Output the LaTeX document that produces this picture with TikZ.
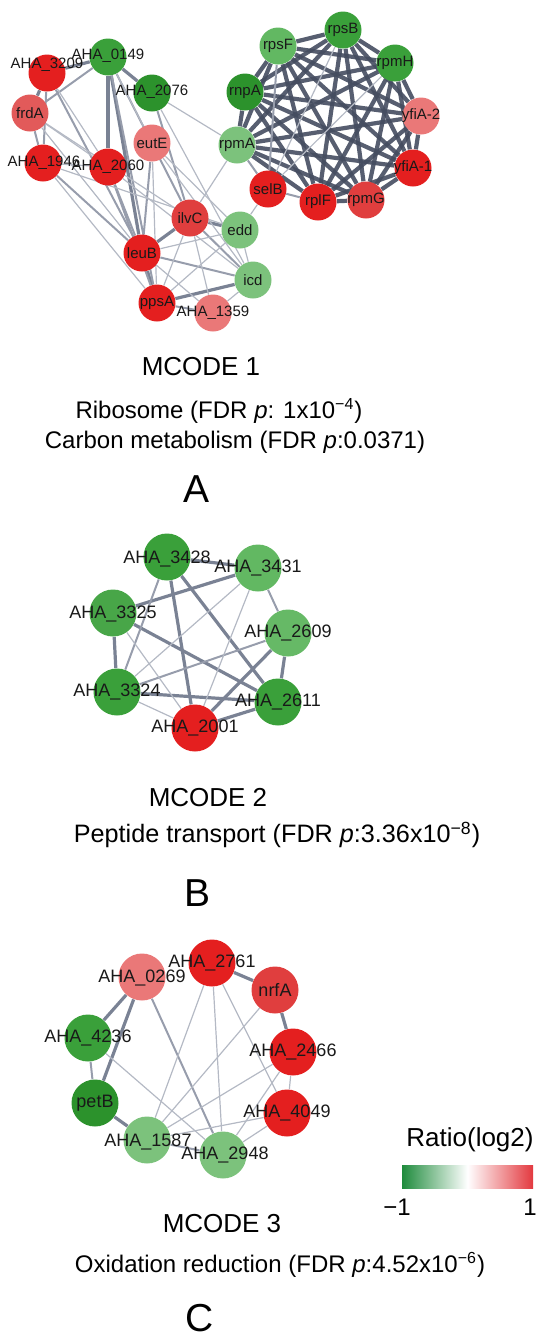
\documentclass[tikz,border=0pt]{standalone}
\usepackage{fontspec}
\setmainfont{Liberation Sans}
\pgfdeclarelayer{edges}
\pgfsetlayers{edges,main}
\definecolor{cRed}{HTML}{E41F1F}
\definecolor{cMidRed}{HTML}{E03E3E}
\definecolor{cLightRed}{HTML}{E25A5A}
\definecolor{cSalmon}{HTML}{EA7878}
\definecolor{cGreen}{HTML}{3AA03A}
\definecolor{cDarkGreen}{HTML}{2C922C}
\definecolor{cLightGreen}{HTML}{7CC27C}
\definecolor{cLightGreenB}{HTML}{62B862}
\definecolor{cMidGreen}{HTML}{48A648}
\definecolor{cEdgeL}{HTML}{B4B9C4}
\definecolor{cEdgeM}{HTML}{979DAC}
\definecolor{cEdgeT}{HTML}{7A8294}
\definecolor{cEdgeD}{HTML}{454D60}
\definecolor{cLegG}{HTML}{1E8B3C}
\definecolor{cLegR}{HTML}{E3393F}
\tikzset{
  gn/.style={circle, draw=none, minimum size=18.5pt, inner sep=0pt},
  bn/.style={circle, draw=none, minimum size=23.5pt, inner sep=0pt},
  lab/.style={font=\fontsize{7.5}{8}\selectfont, inner sep=0pt, text=black!90},
  labB/.style={font=\fontsize{9}{10}\selectfont, inner sep=0pt, text=black!90},
  eL/.style={line width=0.6pt, draw=cEdgeL},
  eM/.style={line width=1pt, draw=cEdgeM},
  eT/.style={line width=1.6pt, draw=cEdgeT},
  eD/.style={line width=2.1pt, draw=cEdgeD, opacity=0.9},
  ttl/.style={font=\fontsize{13}{15}\selectfont, inner sep=0pt},
  desc/.style={font=\fontsize{12}{14}\selectfont, inner sep=0pt},
  letter/.style={font=\fontsize{19.5}{22}\selectfont, inner sep=0pt},
}
\begin{document}
\begin{tikzpicture}[x=0.5pt,y=-0.5pt]
\useasboundingbox (0,0) rectangle (550,1341);
% ---------- MCODE 1 ----------
\node[gn, fill=cRed] (n3209) at (47,73) {};
\node[gn, fill=cGreen] (n0149) at (108,57) {};
\node[gn, fill=cDarkGreen] (n2076) at (152,93) {};
\node[gn, fill=cLightRed] (frdA) at (30,113) {};
\node[gn, fill=cSalmon] (eutE) at (152,143) {};
\node[gn, fill=cRed] (n1946) at (43,163) {};
\node[gn, fill=cRed] (n2060) at (108,167) {};
\node[gn, fill=cMidRed] (ilvC) at (190,218) {};
\node[gn, fill=cLightGreen] (edd) at (240,230) {};
\node[gn, fill=cRed] (leuB) at (142,253) {};
\node[gn, fill=cLightGreen] (icd) at (253,280) {};
\node[gn, fill=cRed] (ppsA) at (157,303) {};
\node[gn, fill=cSalmon] (n1359) at (213,313) {};
\node[gn, fill=cLightGreen] (rpmA) at (237,145) {};
\node[gn, fill=cDarkGreen] (rnpA) at (245,92) {};
\node[gn, fill=cRed] (selB) at (268,189) {};
\node[gn, fill=cLightGreenB] (rpsF) at (278,46) {};
\node[gn, fill=cGreen] (rpsB) at (343,30) {};
\node[gn, fill=cGreen] (rpmH) at (395,63) {};
\node[gn, fill=cSalmon] (yfiA2) at (421,116) {};
\node[gn, fill=cRed] (yfiA1) at (413,168) {};
\node[gn, fill=cRed] (rplF) at (318,202) {};
\node[gn, fill=cMidRed] (rpmG) at (366,200) {};
\begin{pgfonlayer}{edges}
\foreach \a [count=\i] in {rpsF,rpsB,rpmH,rnpA,rpmA,yfiA2,yfiA1,rplF,rpmG}
  \foreach \b [count=\j] in {rpsF,rpsB,rpmH,rnpA,rpmA,yfiA2,yfiA1,rplF,rpmG}
    {\ifnum\j>\i \draw[eD] (\a) -- (\b); \fi}
\foreach \a/\b in {selB/rpmA,selB/rplF,selB/rpsF}
  \draw[eM] (\a) -- (\b);
\foreach \a/\b in {selB/rpmH,selB/rpsB}
  \draw[eL] (\a) -- (\b);
\foreach \a/\b in {n3209/n0149,n3209/frdA,n0149/n2060,n0149/leuB,ilvC/edd,leuB/ilvC,leuB/ppsA,ppsA/icd,n0149/n2076}
  \draw[eT] (\a) -- (\b);
\foreach \a/\b in {n0149/frdA,n0149/ilvC,n3209/n1946,n3209/leuB,frdA/n1946,n1946/leuB,n2060/leuB,n2076/ilvC,eutE/leuB,ilvC/icd,leuB/icd,ppsA/n1359,n0149/ppsA,n2060/ppsA}
  \draw[eM] (\a) -- (\b);
\foreach \a/\b in {n3209/n2060,frdA/n2060,frdA/leuB,n1946/ppsA,n1946/edd,n2060/icd,n2076/rpmA,n2076/icd,eutE/ppsA,eutE/icd,eutE/edd,ilvC/ppsA,ilvC/n1359,ilvC/rpmA,leuB/edd,leuB/n1359,ppsA/edd,n1359/icd,edd/icd,selB/edd,n0149/eutE,frdA/ilvC,n1946/n2060}
  \draw[eL] (\a) -- (\b);
\end{pgfonlayer}
\node[lab] (l3209) at (47,65) {AHA\_3209};
\node[lab] (l0149) at (108,56) {AHA\_0149};
\node[lab] (l2076) at (152,92) {AHA\_2076};
\node[lab] (lfrdA) at (frdA) {frdA};
\node[lab] (leutE) at (eutE) {eutE};
\node[lab] (l1946) at (44,163) {AHA\_1946};
\node[lab] (l2060) at (108,167) {AHA\_2060};
\node[lab] (lilvC) at (ilvC) {ilvC};
\node[lab] (ledd) at (edd) {edd};
\node[lab] (lleuB) at (leuB) {leuB};
\node[lab] (licd) at (icd) {icd};
\node[lab] (lppsA) at (ppsA) {ppsA};
\node[lab] (l1359) at (213,313) {AHA\_1359};
\node[lab] (lrpmA) at (rpmA) {rpmA};
\node[lab] (lrnpA) at (rnpA) {rnpA};
\node[lab] (lselB) at (selB) {selB};
\node[lab] (lrpsF) at (rpsF) {rpsF};
\node[lab] (lrpsB) at (rpsB) {rpsB};
\node[lab] (lrpmH) at (rpmH) {rpmH};
\node[lab] (lyfiA2) at (yfiA2) {yfiA-2};
\node[lab] (lyfiA1) at (yfiA1) {yfiA-1};
\node[lab] (lrplF) at (rplF) {rplF};
\node[lab] (lrpmG) at (rpmG) {rpmG};
\node[ttl] (m1) at (201,367) {MCODE 1};
\node[desc] (d1a) at (219,411) {Ribosome (FDR \textit{p}: 1x10\textsuperscript{−4})};
\node[desc] (d1b) at (235,442) {Carbon metabolism (FDR \textit{p}:0.0371)};
\node[letter] (lA) at (197,489) {A};
% ---------- MCODE 2 ----------
\node[bn, fill=cGreen] (a3428) at (167,557) {};
\node[bn, fill=cLightGreenB] (a3431) at (258,568) {};
\node[bn, fill=cMidGreen] (a3325) at (113,613) {};
\node[bn, fill=cLightGreenB!85!cLightGreen] (a2609) at (288,633) {};
\node[bn, fill=cGreen] (a3324) at (117,692) {};
\node[bn, fill=cGreen] (a2611) at (278,702) {};
\node[bn, fill=cRed] (a2001) at (195,728) {};
\begin{pgfonlayer}{edges}
\foreach \a/\b in {a3428/a3431,a3428/a2001,a3428/a2611,a3431/a3325,a3325/a3324,a3325/a2611,a2609/a2611,a2609/a2001,a3324/a2611,a2611/a2001}
  \draw[eT] (\a) -- (\b);
\foreach \a/\b in {a2609/a3324,a3428/a3324,a3431/a2609}
  \draw[eM] (\a) -- (\b);
\foreach \a/\b in {a3431/a3324,a3431/a2001,a3325/a2001,a3324/a2001}
  \draw[eL] (\a) -- (\b);
\end{pgfonlayer}
\node[labB] (l3428) at (167,559) {AHA\_3428};
\node[labB] (l3431) at (258,568) {AHA\_3431};
\node[labB] (l3325) at (113,614) {AHA\_3325};
\node[labB] (l2609) at (288,633) {AHA\_2609};
\node[labB] (l3324) at (117,692) {AHA\_3324};
\node[labB] (l2611) at (278,702) {AHA\_2611};
\node[labB] (l2001) at (195,728) {AHA\_2001};
\node[ttl] (m2) at (208,798) {MCODE 2};
\node[desc, font=\fontsize{12.6}{14}\selectfont] (d2) at (277,835) {Peptide transport (FDR \textit{p}:3.36x10\textsuperscript{−8})};
\node[letter] (lB) at (198,893) {B};
% ---------- MCODE 3 ----------
\node[bn, fill=cSalmon] (b0269) at (142,977) {};
\node[bn, fill=cRed] (b2761) at (212,963) {};
\node[bn, fill=cMidRed] (nrfA) at (275,990) {};
\node[bn, fill=cGreen] (b4236) at (88,1038) {};
\node[bn, fill=cRed] (b2466) at (293,1052) {};
\node[bn, fill=cDarkGreen] (petB) at (95,1103) {};
\node[bn, fill=cRed] (b4049) at (287,1113) {};
\node[bn, fill=cLightGreen] (b1587) at (147,1140) {};
\node[bn, fill=cLightGreen] (b2948) at (223,1155) {};
\begin{pgfonlayer}{edges}
\foreach \a/\b in {b0269/b4236,b0269/petB,b2761/nrfA,nrfA/b2466,petB/b1587}
  \draw[eT] (\a) -- (\b);
\foreach \a/\b in {b0269/b2948,b4236/petB,b1587/b2948}
  \draw[eM] (\a) -- (\b);
\foreach \a/\b in {b2761/b1587,b2761/b2948,b2761/b4049,nrfA/b1587,b4236/b2948,b2466/b1587,b2466/b2948,b2466/b4049,b4049/b1587,b4049/b2948}
  \draw[eL] (\a) -- (\b);
\end{pgfonlayer}
\node[labB] (l0269) at (142,978) {AHA\_0269};
\node[labB] (l2761) at (212,963) {AHA\_2761};
\node[labB] (lnrfA) at (nrfA) {nrfA};
\node[labB] (l4236) at (88,1038) {AHA\_4236};
\node[labB] (l2466) at (293,1052) {AHA\_2466};
\node[labB] (lpetB) at (petB) {petB};
\node[labB] (l4049) at (287,1113) {AHA\_4049};
\node[labB] (l1587) at (148,1142) {AHA\_1587};
\node[labB] (l2948) at (225,1155) {AHA\_2948};
\node[ttl] (m3) at (222,1224) {MCODE 3};
\node[desc] (d3) at (280,1265) {Oxidation reduction (FDR \textit{p}:4.52x10\textsuperscript{−6})};
\node[letter] (lC) at (200,1318) {C};
% ---------- legend ----------
\node[ttl] (legT) at (470,1140) {Ratio(log2)};
\shade[left color=cLegG, right color=cLegR, middle color=white] (402,1165) rectangle (533,1188);
\node[desc] (legMin) at (397,1207) {−1};
\node[desc] (legMax) at (530,1207) {1};
\end{tikzpicture}
\end{document}
